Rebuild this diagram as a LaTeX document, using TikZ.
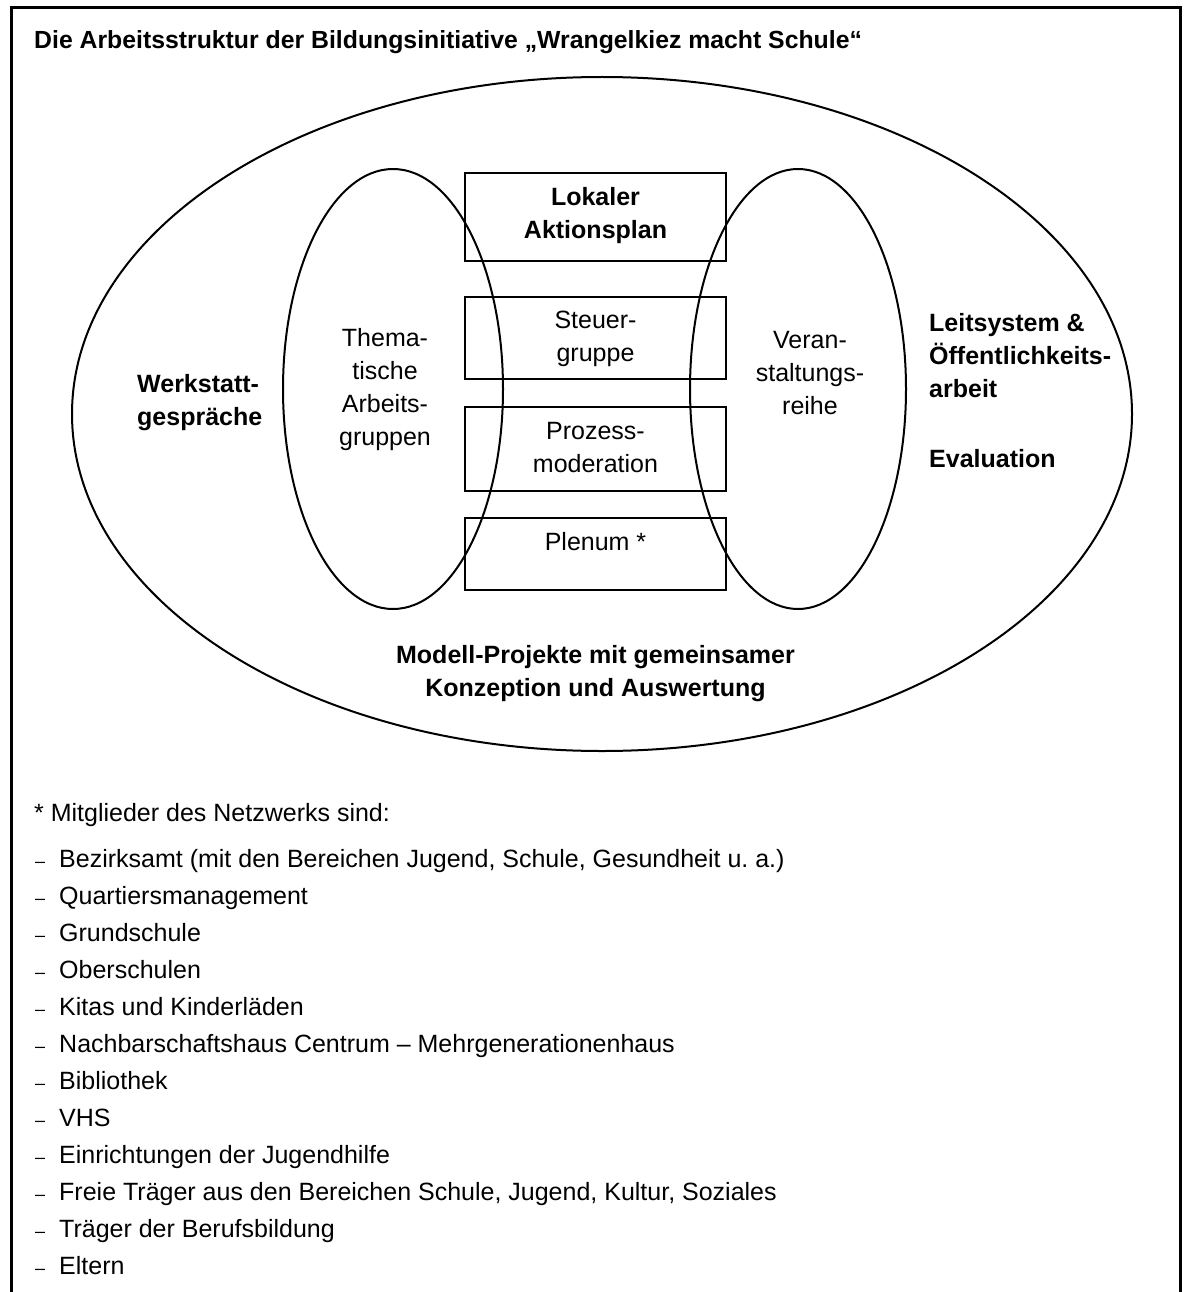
\documentclass[tikz,border=0pt]{standalone}
\usepackage{fontspec}
\setmainfont{Liberation Sans}
\usetikzlibrary{shapes.geometric}
\frenchspacing
\begin{document}
\begin{tikzpicture}[x=1pt,y=-1pt,
  txt/.style={inner sep=0pt, font=\fontsize{25}{33}\selectfont},
  btxt/.style={inner sep=0pt, font=\bfseries\fontsize{25}{33}\selectfont},
  ttl/.style={inner sep=0pt, font=\bfseries\fontsize{24.8}{30}\selectfont},
  dsh/.style={inner sep=0pt, font=\fontsize{18}{20}\selectfont},
  boxnode/.style={draw, rectangle, line width=2pt, minimum width=261pt, inner sep=0pt},
  ell/.style={draw, ellipse, line width=2pt, inner sep=0pt}]
\useasboundingbox (0,0) rectangle (1183,1292);
% frame (open at bottom)
\draw[line width=3pt] (11,1292) -- (11,7.7) -- (1180.5,7.7) -- (1180.5,1292);
% title
\node[ttl, anchor=base west] (title) at (34,49) {Die Arbeitsstruktur der Bildungsinitiative „Wrangelkiez macht Schule“};
% ellipses
\node[ell, minimum width=1060pt, minimum height=674pt] (outer) at (602,414) {};
\node[ell, minimum width=220pt, minimum height=440pt] (lefte) at (393,389) {};
\node[ell, minimum width=216pt, minimum height=440pt] (righte) at (798,389) {};
% boxes
\node[boxnode, minimum height=88pt] (lap) at (595.5,217) {};
\node[boxnode, minimum height=82pt] (steu) at (595.5,338) {};
\node[boxnode, minimum height=84pt] (proz) at (595.5,449) {};
\node[boxnode, minimum height=72pt] (plen) at (595.5,554) {};
% box texts
\node[btxt, align=center] (laptxt) at (595.5,216) {Lokaler\\Aktionsplan};
\node[txt, align=center] (steutxt) at (595.5,339) {Steuer-\\gruppe};
\node[txt, align=center] (prozxt) at (595.5,448) {Prozess-\\moderation};
\node[txt, anchor=base] (plentxt) at (595.5,550) {Plenum *};
% ellipse texts
\node[txt, align=center] (thema) at (385,390) {Thema-\\tische\\Arbeits-\\gruppen};
\node[txt, align=center] (veran) at (810,373) {Veran-\\staltungs-\\reihe};
\node[btxt, align=left, anchor=west] (werk) at (137,403) {Werkstatt-\\gespräche};
\node[btxt, align=left, anchor=west] (leit) at (929,356) {Leitsystem \&\\Öffentlichkeits-\\arbeit};
\node[btxt, anchor=base west] (eval) at (929,467) {Evaluation};
\node[btxt, align=center] (modell) at (595.5,674) {Modell-Projekte mit gemeinsamer\\Konzeption und Auswertung};
% member list
\node[txt, anchor=base west] (mitgl) at (34,821) {* Mitglieder des Netzwerks sind:};
\foreach \t [count=\i from 0] in {
  {Bezirksamt (mit den Bereichen Jugend, Schule, Gesundheit u. a.)},
  {Quartiersmanagement},
  {Grundschule},
  {Oberschulen},
  {Kitas und Kinderläden},
  {Nachbarschaftshaus Centrum – Mehrgenerationenhaus},
  {Bibliothek},
  {VHS},
  {Einrichtungen der Jugendhilfe},
  {Freie Träger aus den Bereichen Schule, Jugend, Kultur, Soziales},
  {Träger der Berufsbildung},
  {Eltern}}{
  \node[dsh, anchor=base west] (dash\i) at (35,867+37*\i) {–};
  \node[txt, anchor=base west] (item\i) at (59,867+37*\i) {\t};
}
\end{tikzpicture}
\end{document}
